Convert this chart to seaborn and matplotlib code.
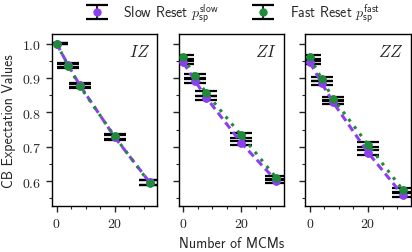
import matplotlib
matplotlib.use("Agg")
import matplotlib.pyplot as plt
from matplotlib.ticker import MultipleLocator, FuncFormatter
import numpy as np
import pandas as pd
import seaborn as sns

sns.set_style("ticks")
plt.rcParams["font.family"] = ["cmss10", "DejaVu Sans"]
plt.rcParams["mathtext.fontset"] = "cm"
plt.rcParams["axes.formatter.use_mathtext"] = True

mcms = [0, 4, 8, 20, 32]
panels = ["IZ", "ZI", "ZZ"]
slow_vals = {
    "IZ": [1.000, 0.937, 0.879, 0.728, 0.597],
    "ZI": [0.945, 0.892, 0.842, 0.711, 0.601],
    "ZZ": [0.945, 0.886, 0.829, 0.683, 0.559],
}
fast_vals = {
    "IZ": [1.000, 0.935, 0.876, 0.730, 0.595],
    "ZI": [0.961, 0.906, 0.855, 0.733, 0.610],
    "ZZ": [0.961, 0.898, 0.840, 0.706, 0.574],
}
slow_err = {
    "IZ": [0.001, 0.006, 0.006, 0.007, 0.007],
    "ZI": [0.005, 0.006, 0.006, 0.007, 0.006],
    "ZZ": [0.005, 0.006, 0.006, 0.007, 0.006],
}
fast_err = {
    "IZ": [0.001, 0.006, 0.006, 0.007, 0.007],
    "ZI": [0.005, 0.006, 0.006, 0.007, 0.006],
    "ZZ": [0.005, 0.006, 0.006, 0.007, 0.006],
}

purple = "#8c3ff0"
green = "#1f8a3a"

fig, axes = plt.subplots(1, 3, figsize=(4.12, 2.53), dpi=100, sharey=True)
fig.subplots_adjust(left=0.126, right=0.997, top=0.862, bottom=0.182, wspace=0.2)

for ax, p in zip(axes, panels):
    df = pd.DataFrame({"x": mcms, "slow": slow_vals[p], "fast": fast_vals[p]})
    h1 = ax.errorbar(df["x"], df["slow"], yerr=slow_err[p], fmt="o", color=purple,
                     ecolor="black", elinewidth=1.2, capsize=7.8, capthick=1.6,
                     markersize=5, label=r"Slow Reset $p_{\mathsf{sp}}^{\mathsf{slow}}$", zorder=2)
    h2 = ax.errorbar(df["x"], df["fast"], yerr=fast_err[p], fmt="o", color=green,
                     ecolor="black", elinewidth=1.2, capsize=7.8, capthick=1.6,
                     markersize=5, label=r"Fast Reset $p_{\mathsf{sp}}^{\mathsf{fast}}$", zorder=2)
    sns.lineplot(data=df, x="x", y="slow", ax=ax, color=purple, linestyle=(0, (2.5, 1.5)),
                 linewidth=2.2, zorder=3, legend=False)
    sns.lineplot(data=df, x="x", y="fast", ax=ax, color=green, linestyle=(0, (1, 2)),
                 linewidth=2.2, zorder=4, legend=False)
    # markers back on top of the lines
    ax.plot(df["x"], df["slow"], "o", color=purple, markersize=5, zorder=5)
    ax.plot(df["x"], df["fast"], "o", color=green, markersize=5, zorder=6)
    ax.text(0.93, 0.9, f"${p}$", transform=ax.transAxes, ha="right", va="center", fontsize=12)
    ax.set_xlim(-1.6, 34.7)
    ax.set_ylim(0.528, 1.028)
    ax.xaxis.set_major_locator(MultipleLocator(20))
    ax.xaxis.set_minor_locator(MultipleLocator(5))
    ax.yaxis.set_major_locator(MultipleLocator(0.1))
    ax.yaxis.set_minor_locator(MultipleLocator(0.05))
    ax.xaxis.set_major_formatter(FuncFormatter(lambda v, pos: f"${v:.0f}$"))
    ax.yaxis.set_major_formatter(FuncFormatter(lambda v, pos: f"${v:.1f}$"))
    ax.tick_params(which="major", length=4, width=1, direction="out", labelsize=10)
    ax.tick_params(which="minor", length=2.5, width=0.8, direction="out")
    for s in ax.spines.values():
        s.set_color("black")
        s.set_linewidth(1.0)
    ax.set_xlabel("")
    ax.set_ylabel("")

axes[0].set_ylabel("CB Expectation Values", fontsize=10)
axes[1].set_xlabel("Number of MCMs", fontsize=10)

fig.legend(handles=[h1, h2], loc="center", bbox_to_anchor=(0.565, 0.943), ncol=2,
           frameon=False, fontsize=10, handlelength=1.6, handletextpad=1.1,
           columnspacing=2.4)

fig.savefig("out.png", dpi=100)
